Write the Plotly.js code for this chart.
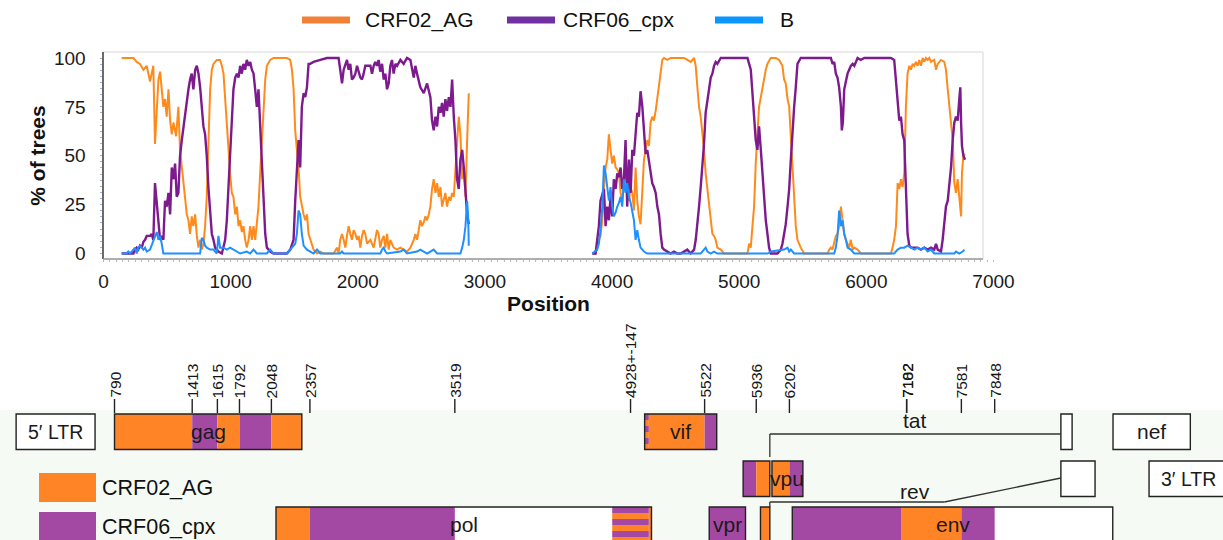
<!DOCTYPE html>
<html><head><meta charset="utf-8">
<script src="https://cdn.plot.ly/plotly-3.0.1.min.js"></script>
<style>html,body{margin:0;padding:0;background:#fff;}#chart{width:1223px;height:540px;}</style>
</head><body><div id="chart"></div>
<script>
// ---------------- DATA ----------------
const seriesNames = ['CRF02_AG', 'CRF06_cpx', 'B'];
const xTickVals = [0, 1000, 2000, 3000, 4000, 5000, 6000, 7000];
const yTickVals = [0, 25, 50, 75, 100];

// CRF02_AG (% of trees) along alignment position
const crf02Pos = [143,235,248,261,287,314,340,366,379,392, 405,419,432,445,458,471,484,497,511,524,
 537,550,571,589,602,616,629,642,655,668, 681,694,707,721,734,747,760,773,786,799,
 812,826,839,852,865,891,917,931,944,957, 970,983,996,1009,1022,1036,1049,1062,1075,1088,
 1101,1114,1127,1141,1154,1167,1180,1193,1206,1219, 1232,1246,1259,1272,1285,1311,1337,1390,1442,1469,
 1482,1495,1508,1521,1534,1547,1560,1574,1587,1600, 1613,1626,1639,1652,1679,1705,1731,1810,1836,1849,
 1862,1876,1889,1902,1915,1928,1941,1954,1967,1981, 1994,2007,2020,2033,2046,2059,2073,2099,2125,2138,
 2151,2164,2177,2191,2204,2217,2230,2243,2256,2282, 2309,2335,2361,2387,2414,2440,2453,2466,2479,2492,
 2505,2519,2532,2545,2558,2571,2584,2597,2611,2624, 2637,2650,2663,2676,2689,2702,2716,2729,2742,2755,
 2768,2781,2794,2807,2821,2834,2847,2860,2873,
 3300,
 3844,3870,3883,3896,3909,3923,3936,3949,3962,3975, 3988,4001,4014,4028,4041,4054,4067,4080,4093,4106,
 4119,4133,4146,4159,4172,4185,4198,4211,4224,4238, 4251,4264,4277,4290,4303,4316,4329,4343,4356,4369,
 4382,4395,4408,4435,4461,4487,4513,4540,4566,4592, 4618,4645,4658,4671,4684,4697,4710,4723,4736,4750,
 4763,4776,4789,4802,4815,4828,4855,4881,5065,5078, 5091,5104,5117,5130,5143,5156,5170,5183,5196,5209,
 5222,5248,5288,5314,5340,5353,5366,5380,5393,5406, 5419,5432,5445,5458,5484,5511,5695,5708,5721,5734,
 5747,5760,5773,5786,5800,5813,5826,5839,5852,5865, 5878,5892,5905,5931,5957,6193,6206,6219,6233,6246,
 6259,6272,6285,6298,6311,6324,6338,6351,6364,6377, 6390,6403,6416,6429,6443,6456,6469,6482,6495,6508,
 6534,6548,6561,6587,6613,6626,6640,6653,6666,6679, 6692,6705,6718,6731,6745,6752,6763,6776];
const crf02Val = [100,100,99,98,97,94,96,88,92,96, 56,75,89,93,85,75,79,70,84,68,
 61,67,60,75,53,44,34,29,20,17, 10,19,14,20,9,3,7,2,5,14,
 29,58,84,94,97,99,99,96,92,79, 65,53,41,31,29,20,24,14,17,11,
 14,7,3,7,14,7,14,7,17,24, 41,58,75,89,96,99,100,100,100,99,
 94,84,63,53,44,29,24,20,17,20, 10,7,4,2,0,1,0,0,3,0,
 7,10,7,3,9,14,10,7,12,10, 7,9,3,9,12,10,5,7,3,7,
 12,10,3,7,9,3,10,2,7,3, 2,3,2,1,3,7,10,7,12,17,
 14,16,19,17,20,24,33,38,31,36, 29,34,24,27,31,24,29,27,31,29,
 41,56,70,61,38,44,29,58,82,
 null,
 0,0,3,7,9,17,33,44,48,61, 53,46,50,44,43,41,31,27,36,41,
 38,27,34,31,22,44,27,19,15,36, 48,53,58,55,67,70,68,73,80,87,
 94,99,100,99,100,100,100,100,100,99, 98,100,96,85,75,70,63,53,41,33,
 24,15,10,9,7,3,2,0,0,5, 3,14,24,46,58,75,80,85,90,94,
 97,100,100,99,96,89,87,79,75,58, 41,27,14,7,3,0,0,2,3,2,
 5,9,10,14,24,15,10,7,5,3, 7,2,3,2,0,0,3,7,14,36,
 33,38,34,41,75,92,96,94,97,96, 98,96,99,96,100,98,100,99,100,98,
 99,94,97,99,98,94,84,75,70,58, 36,31,38,27,19,41,50,51];

// CRF06_cpx
const crf06Pos = [143,235,248,261,274,287,301,314,327,340, 353,366,379,392,405,419,432,445,458,471,
 484,497,511,524,537,550,563,576,589,602, 616,629,642,655,668,681,694,707,721,734,
 747,760,773,786,799,812,826,839,852,865, 878,904,931,957,970,983,996,1009,1022,1036,
 1049,1062,1075,1088,1101,1114,1127,1141,1154,1167, 1180,1193,1206,1219,1232,1246,1259,1272,1285,1311,
 1337,1442,1469,1482,1495,1508,1521,1534,1547,1560, 1574,1587,1600,1613,1626,1652,1705,1757,1810,1849,
 1862,1876,1889,1902,1915,1928,1941,1954,1967,1981, 1994,2020,2033,2046,2059,2073,2099,2112,2125,2138,
 2151,2164,2177,2191,2204,2217,2230,2243,2256,2269, 2282,2296,2309,2335,2361,2387,2414,2440,2453,2466,
 2492,2519,2545,2571,2584,2597,2611,2624,2637,2650, 2663,2676,2689,2702,2716,2729,2742,2755,2768,2781,
 2794,2807,2821,2834,2847,2860,2873,
 3300,
 3844,3870,3883,3896,3909,3923,3936,3949,3962,3975, 3988,4001,4014,4028,4041,4054,4067,4080,4093,4106,
 4119,4133,4146,4159,4172,4185,4198,4211,4224,4238, 4251,4264,4277,4290,4303,4316,4329,4343,4356,4369,
 4382,4395,4408,4435,4461,4487,4513,4540,4566,4592, 4618,4645,4658,4671,4684,4697,4710,4723,4736,4750,
 4763,4776,4789,4802,4815,4828,4855,4907,4960,5012, 5065,5078,5091,5104,5117,5130,5143,5156,5170,5183,
 5196,5209,5222,5235,5248,5301,5327,5340,5353,5366, 5380,5393,5406,5419,5432,5445,5458,5484,5537,5590,
 5642,5695,5721,5734,5747,5760,5773,5786,5800,5807, 5815,5826,5839,5852,5865,5878,5892,5905,5918,5931,
 5957,5983,6010,6115,6193,6219,6233,6246,6259,6272, 6285,6298,6311,6324,6338,6351,6377,6403,6429,6456,
 6482,6508,6534,6548,6561,6587,6600,6613,6626,6640, 6653,6666,6679,6692,6705,6718,6731,6739,6745,6752,
 6763,6776];
const crf06Val = [0,0,2,3,2,4,3,6,7,9, 9,9,10,7,36,27,17,7,9,7,
 27,24,31,20,44,38,46,29,31,50, 58,65,73,79,84,89,92,84,94,96,
 92,85,75,65,61,50,33,20,10,7, 3,1,0,7,17,34,53,70,84,90,
 92,90,96,92,97,94,99,96,98,94, 92,84,75,84,65,41,24,10,3,1,
 0,0,2,5,7,27,41,58,44,75, 82,80,85,97,97,98,99,100,100,100,
 94,87,94,97,99,94,97,89,90,92, 96,90,89,92,96,96,96,92,96,98,
 96,99,93,97,89,92,84,87,96,99, 92,97,96,99,97,100,99,90,96,92,
 85,82,87,80,68,63,70,65,75,72, 77,70,79,73,80,75,89,70,58,38,
 33,48,53,44,34,20,15,
 null,
 0,0,7,14,27,31,33,14,24,17, 29,19,38,33,41,39,44,33,38,58,
 24,48,31,53,50,61,72,70,83,75, 65,51,53,48,41,36,34,31,24,20,
 10,3,2,1,0,1,0,0,1,2, 0,2,7,14,24,34,44,56,72,79,
 84,90,92,96,98,97,100,100,100,100, 100,97,94,82,67,58,53,65,53,38,
 29,17,10,3,0,0,2,5,10,15, 24,33,48,65,75,85,97,100,100,100,
 100,100,100,97,98,92,90,85,75,63, 67,84,89,92,94,96,97,96,98,100,
 99,100,100,100,100,99,87,75,68,70, 61,58,31,10,4,3,3,3,2,3,
 2,3,2,5,2,1,7,14,24,27, 34,44,58,67,70,68,79,85,67,55,
 50,48];

// B
const bPos = [143,182,195,209,235,248,261,274,287,301, 314,327,340,366,392,405,419,432,445,458,
 471,760,773,786,799,812,839,865,891,904, 917,944,970,996,1022,1049,1075,1127,1154,1180,
 1206,1285,1311,1337,1442,1482,1508,1521,1534,1547, 1560,1574,1600,1626,1652,1679,1705,1862,1876,1889,
 2177,2191,2204,2217,2230,2335,2361,2387,2466,2492, 2519,2545,2571,2597,2624,2807,2821,2834,2847,2860,
 2868,2873,
 3300,
 3844,3883,3896,3909,3923,3936,3949,3962,3975,3988, 4001,4014,4028,4041,4054,4067,4080,4093,4106,4119,
 4133,4146,4159,4172,4185,4198,4211,4224,4238,4251, 4277,4697,4723,4736,4750,4776,4802,4828,5222,5248,
 5353,5380,5393,5406,5432,5747,5760,5773,5786,5800, 5813,5826,5839,5852,5878,5905,6219,6246,6272,6298,
 6324,6351,6377,6403,6429,6456,6482,6508,6534,6692, 6705,6731,6758,6771];
const bVal = [0,0,1,0,2,3,0,3,4,3, 2,3,1,2,7,9,11,7,9,5,
 0,0,8,7,4,3,2,2,0,9, 3,3,2,3,2,1,0,1,0,2,
 0,0,2,0,0,3,5,10,22,20, 10,4,2,1,0,2,0,0,1,0,
 0,2,3,1,0,1,2,0,1,2, 1,0,1,2,0,0,3,7,14,27,
 19,4,
 null,
 0,2,5,12,24,45,41,33,27,34, 24,19,21,24,26,29,24,38,31,36,
 29,26,22,17,7,12,7,3,2,1, 0,0,2,3,1,0,1,0,0,1,
 2,3,1,2,0,0,3,9,22,14, 17,10,7,3,2,0,0,2,3,3,
 4,3,2,3,2,3,1,2,0,0, 1,0,1,2];

// Genome map (HXB2 coordinates)
const geneNames = ["5′ LTR","gag","vif","tat","nef","tat","vpu","rev","3′ LTR","pol","vpr","rev","env"];
const geneStart = [1, 790, 5041, 8379, 8797, 5831, 6062, 8379, 9086, 2085, 5559, 5970, 6225];
const geneEnd   = [634, 2292, 5619, 8469, 9417, 6045, 6310, 8653, 9719, 5096, 5850, 6045, 8795];
const geneRow   = [0, 0, 0, 0, 0, 1, 1, 1, 1, 2, 2, 2, 2];
const geneLabelInBox = [true, true, true, false, true, false, true, false, true, true, true, false, true];

// Recombinant segments along HXB2 (A = CRF02_AG, C = CRF06_cpx, U = uncertain breakpoint zone)
const segStart = [790, 1413, 1615, 1792, 2048, 2357, 4781, 5075, 5522, 5936, 6202, 7102, 7581];
const segEnd   = [1413, 1615, 1792, 2048, 2357, 3519, 5075, 5522, 5936, 6202, 7102, 7581, 7848];
const segType  = ['A', 'C', 'A', 'C', 'A', 'C', 'U', 'A', 'C', 'A', 'C', 'A', 'C'];

// Breakpoint labels
const bpPos   = [790, 1413, 1615, 1792, 2048, 2357, 3519, 4928, 5522, 5936, 6202, 7102, 7182, 7581, 7848];
const bpLabel = ['790','1413','1615','1792','2048','2357','3519','4928+-147','5522','5936','6202','7102','7182','7581','7848'];

// ---------------- STYLE / LAYOUT ----------------
const W = 1223, H = 540;
const px = v => v / W, py = v => 1 - v / H;
const FONT = 'Liberation Sans, Arial, Helvetica, sans-serif';
const lineColors = ['#ff8a1c', '#7d1a8e', '#1e90ff'];
const swatchColors = ['#ef8236', '#7030a0', '#0a95ff'];
const mapOrange = '#ff8426', mapPurple = '#a349a4';
const fillFor = {A: mapOrange, C: mapPurple};

const traces = [
  {x: crf02Pos, y: crf02Val, name: seriesNames[0], type: 'scatter', mode: 'lines', line: {color: lineColors[0], width: 2}, showlegend: false, xaxis: 'x', yaxis: 'y'},
  {x: crf06Pos, y: crf06Val, name: seriesNames[1], type: 'scatter', mode: 'lines', line: {color: lineColors[1], width: 2.4}, showlegend: false, xaxis: 'x', yaxis: 'y'},
  {x: bPos, y: bVal, name: seriesNames[2], type: 'scatter', mode: 'lines', line: {color: lineColors[2], width: 2}, showlegend: false, xaxis: 'x', yaxis: 'y'}
];

const shapes = [], annotations = [];

// plot frame and bottom axis line
shapes.push({type: 'rect', xref: 'paper', yref: 'paper', x0: px(103), x1: px(983), y0: py(259), y1: py(52), line: {color: '#d6d6d6', width: 1}, fillcolor: 'rgba(0,0,0,0)', layer: 'below'});
shapes.push({type: 'line', xref: 'paper', yref: 'paper', x0: px(103), x1: px(983), y0: py(259), y1: py(259), line: {color: '#9a9a9a', width: 1.5}});

// top legend
const legSwX = [302, 507, 715], legTxX = [363, 561, 778];
seriesNames.forEach((n, i) => {
  shapes.push({type: 'line', xref: 'paper', yref: 'paper', x0: px(legSwX[i]), x1: px(legSwX[i] + 48), y0: py(20), y1: py(20), line: {color: swatchColors[i], width: 7}});
  annotations.push({xref: 'paper', yref: 'paper', x: px(legTxX[i]), y: py(20), text: n, showarrow: false, xanchor: 'left', yanchor: 'middle', font: {family: FONT, size: 21, color: '#111'}});
});

// genome map background
shapes.push({type: 'rect', xref: 'paper', yref: 'paper', x0: 0, x1: 1, y0: 0, y1: py(410), line: {width: 0}, fillcolor: '#f6faf4', layer: 'below'});

const rowTop = [414, 461, 507], rowH = 35.5;
const box = (x0, x1, y0, y1, fill, line) => ({type: 'rect', xref: 'x2', yref: 'y2', x0, x1, y0, y1,
  fillcolor: fill || 'rgba(0,0,0,0)', line: line || {width: 0}});

geneNames.forEach((g, i) => {
  const s = geneStart[i], e = geneEnd[i], t = rowTop[geneRow[i]], b = t + rowH;
  shapes.push(box(s, e, t, b, '#ffffff'));
  segStart.forEach((ss, k) => {
    const a = Math.max(s, ss), z = Math.min(e, segEnd[k]);
    if (z <= a) return;
    if (segType[k] === 'U') {
      const step = 6;
      for (let y = t, j = 0; y < b; y += step, j++) {
        shapes.push(box(a, z, y, Math.min(b, y + step), j % 2 === 0 ? mapPurple : mapOrange));
      }
    } else {
      shapes.push(box(a, z, t, b, fillFor[segType[k]]));
    }
  });
  shapes.push(box(s, e, t, b, null, {color: '#222', width: 1.4}));
  if (geneLabelInBox[i]) {
    const isLTR = g.indexOf('LTR') >= 0;
    annotations.push({xref: 'x2', yref: 'y2', x: (s + e) / 2, y: t + rowH / 2, text: g, showarrow: false,
      xanchor: 'center', yanchor: 'middle', font: {family: FONT, size: isLTR ? 19.5 : 21, color: '#1a1a1a'}});
  }
});

// tat / rev splice connectors
const tatI = [5, 3], revI = [11, 7];
const tat1End = geneEnd[tatI[0]], tat2Start = geneStart[tatI[1]];
const rev1End = geneEnd[revI[0]], rev2Start = geneStart[revI[1]];
const L = (x0, y0, x1, y1) => ({type: 'line', xref: 'x2', yref: 'y2', x0, y0, x1, y1, line: {color: '#333', width: 1.3}});
shapes.push(L(tat1End, 457, tat1End, 434), L(tat1End, 434, tat2Start, 434));
const revKnee = rev1End + 0.6 * (rev2Start - rev1End);
shapes.push(L(rev1End, 507, rev1End, 502), L(rev1End, 502, revKnee, 502), L(revKnee, 502, rev2Start, 478));
annotations.push({xref: 'x2', yref: 'y2', x: (tat1End + tat2Start) / 2, y: 420, text: 'tat', showarrow: false, xanchor: 'center', yanchor: 'middle', font: {family: FONT, size: 21, color: '#1a1a1a'}});
annotations.push({xref: 'x2', yref: 'y2', x: (rev1End + rev2Start) / 2, y: 491, text: 'rev', showarrow: false, xanchor: 'center', yanchor: 'middle', font: {family: FONT, size: 21, color: '#1a1a1a'}});

// breakpoint ticks (close breakpoints share one tick)
bpPos.forEach((p, i) => {
  let xp = p;
  bpPos.forEach((q, j) => { if (j !== i && Math.abs(q - p) < 120) xp = (p + q) / 2; });
  shapes.push({type: 'line', xref: 'x2', yref: 'y2', x0: xp, x1: xp, y0: 399, y1: 413, line: {color: '#222', width: 1.4}});
  annotations.push({xref: 'x2', yref: 'y2', x: xp, y: 399, text: bpLabel[i], textangle: -90, showarrow: false,
    xanchor: 'center', yanchor: 'bottom', borderpad: 0, font: {family: FONT, size: 15.5, color: '#151515'}});
});

// genome map legend
const mapLegNames = [seriesNames[0], seriesNames[1]], mapLegFill = [mapOrange, mapPurple];
const mapLegTop = [473, 512];
mapLegNames.forEach((n, i) => {
  shapes.push({type: 'rect', xref: 'paper', yref: 'paper', x0: px(39), x1: px(96), y0: py(mapLegTop[i] + 29), y1: py(mapLegTop[i]), fillcolor: mapLegFill[i], line: {width: 0}});
  annotations.push({xref: 'paper', yref: 'paper', x: px(100), y: py(mapLegTop[i] + 15), text: n, showarrow: false, xanchor: 'left', yanchor: 'middle', font: {family: FONT, size: 21.5, color: '#111'}});
});

const layout = {
  width: W, height: H, margin: {l: 0, r: 0, t: 0, b: 0},
  paper_bgcolor: '#ffffff', plot_bgcolor: 'rgba(0,0,0,0)',
  font: {family: FONT, color: '#111'},
  showlegend: false,
  xaxis: {domain: [px(103.5), px(993.5)], range: [0, 7000], tickvals: xTickVals, ticks: '', showgrid: false, zeroline: false, showline: false,
    tickfont: {family: FONT, size: 19, color: '#1a1a1a'}, ticklabelstandoff: 9,
    minor: {ticks: 'outside', ticklen: 2, tickcolor: '#b8b8b8', dtick: 50, showgrid: false},
    title: {text: '<b>Position</b>', font: {family: FONT, size: 21, color: '#111'}, standoff: 5}, anchor: 'y'},
  yaxis: {domain: [py(259), py(52)], range: [-2.81, 103.07], tickvals: yTickVals, ticks: '', showgrid: false, zeroline: false,
    showline: true, linecolor: '#6a6a6a', linewidth: 2,
    tickfont: {family: FONT, size: 19, color: '#1a1a1a'}, ticklabelstandoff: 12,
    minor: {ticks: 'outside', ticklen: 2, tickcolor: '#9db3cc', dtick: 3.125, tick0: 0, showgrid: false},
    title: {text: '<b>% of trees</b>', font: {family: FONT, size: 21, color: '#111'}, standoff: 3}, anchor: 'x'},
  xaxis2: {domain: [0, 1], range: [-128.3, 9679], visible: false, anchor: 'y2', fixedrange: true},
  yaxis2: {domain: [0, 220 / 540], range: [540, 320], visible: false, anchor: 'x2', fixedrange: true},
  shapes, annotations
};

Plotly.newPlot('chart', traces, layout, {displayModeBar: false, staticPlot: true});
</script>
</body></html>
